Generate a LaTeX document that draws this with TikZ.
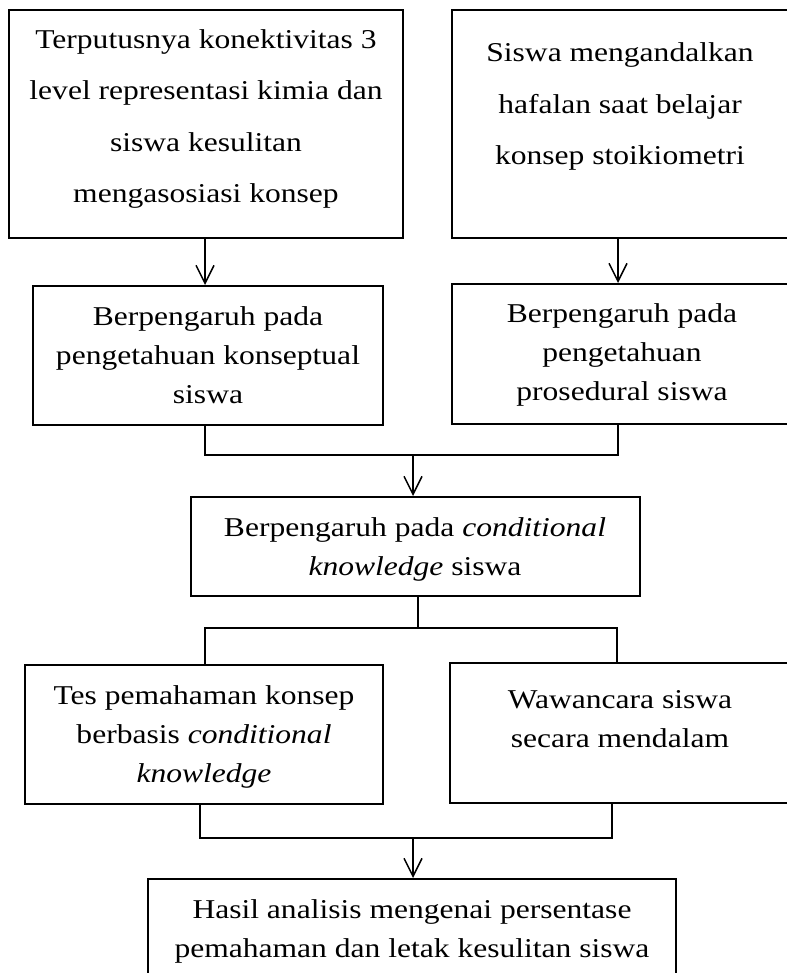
\documentclass[tikz,border=0pt]{standalone}
\usepackage{fontspec}
\setmainfont{Liberation Serif}[FakeStretch=1.16]
\usetikzlibrary{arrows.meta,calc}
\begin{document}
\begin{tikzpicture}[x=1pt,y=-1pt,
  box/.style={draw, line width=2pt, inner sep=0pt},
  conn/.style={line width=1.5pt},
  arr/.style={line width=1.5pt, -{Straight Barb[length=18pt,width=18pt]}},
  txt/.style={font=\fontsize{27.2}{39}\selectfont, align=center, anchor=base, inner sep=0pt},
  txtwide/.style={txt, font=\fontsize{27.2}{51.5}\selectfont}]
\useasboundingbox (0,0) rectangle (786,973);

% boxes
\node[box, minimum width=394pt, minimum height=228pt] (b1) at (206,124) {};
\node[box, minimum width=343pt, minimum height=228pt] (b2) at (623.5,124) {};
\node[box, minimum width=350pt, minimum height=139pt] (b3) at (208,355.5) {};
\node[box, minimum width=343pt, minimum height=140pt] (b4) at (623.5,354) {};
\node[box, minimum width=449pt, minimum height=99pt] (b5) at (415.5,546.5) {};
\node[box, minimum width=358pt, minimum height=139pt] (b6) at (204,734.5) {};
\node[box, minimum width=345pt, minimum height=140pt] (b7) at (622.5,733) {};
\node[box, minimum width=528pt, minimum height=111pt] (b8) at (412,934.5) {};

% texts (anchored at the baseline of the last line)
\node[txtwide] (t1) at (206,203) {Terputusnya konektivitas 3\\level representasi kimia dan\\siswa kesulitan\\mengasosiasi konsep};
\node[txtwide] (t2) at (620,165) {Siswa mengandalkan\\hafalan saat belajar\\konsep stoikiometri};
\node[txt] (t3) at (208,403) {Berpengaruh pada\\pengetahuan konseptual\\siswa};
\node[txt] (t4) at (622,400) {Berpengaruh pada\\pengetahuan\\prosedural siswa};
\node[txt] (t5) at (415,575) {Berpengaruh pada \textit{conditional}\\\textit{knowledge} siswa};
\node[txt] (t6) at (204,782) {Tes pemahaman konsep\\berbasis \textit{conditional}\\\textit{knowledge}};
\node[txt] (t7) at (620,747) {Wawancara siswa\\secara mendalam};
\node[txt] (t8) at (412,957) {Hasil analisis mengenai persentase\\pemahaman dan letak kesulitan siswa};

% junction coordinates
\coordinate (j1) at (413,455);
\coordinate (j2) at (418,628);
\coordinate (j3) at (413,838);

% arrows top
\draw[arr] ([xshift=-1pt]b1.south) -- ([xshift=-3pt]b3.north);
\draw[arr] ([xshift=-5.5pt]b2.south) -- ([xshift=-5.5pt]b4.north);

% merge 1
\draw[conn] ([xshift=-3pt]b3.south) |- (j1) -| ([xshift=-5.5pt]b4.south);
\draw[arr] (j1) -- (j1 |- b5.north);

% split
\draw[conn] (b5.south -| j2) -- (j2);
\draw[conn] ([xshift=1pt]b6.north) |- (j2) -| ([xshift=-5.5pt]b7.north);

% merge 2
\draw[conn] ([xshift=-4pt]b6.south) |- (j3) -| ([xshift=-10.5pt]b7.south);
\draw[arr] (j3) -- (j3 |- b8.north);
\end{tikzpicture}
\end{document}
